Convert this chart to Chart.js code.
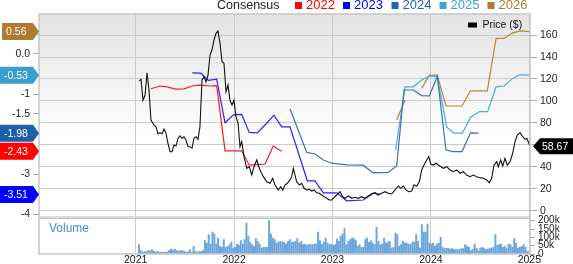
<!DOCTYPE html>
<html><head><meta charset="utf-8">
<script src="https://cdn.jsdelivr.net/npm/chart.js@4.4.1/dist/chart.umd.min.js"></script>
<style>html,body{margin:0;padding:0;background:#fff;overflow:hidden}canvas{display:block}</style>
</head><body>
<canvas id="c" width="573" height="264"></canvas>
<script>
// ---------- data ----------
const years = [2021, 2022, 2023, 2024, 2025];
const yearLabels = ['2021', '2022', '2023', '2024', '2025'];
const priceTicks = [0, 20, 40, 60, 80, 100, 120, 140, 160];
const epsTickValues = [0.5, 0, -0.5, -1, -1.5, -2, -2.5, -3, -3.5, -4];
const epsTickLabels = ['0.5', '0.0', '-0.5', '-1', '-1.5', '-2', '-2.5', '-3', '-3.5', '-4'];
const volTickValues = [0, 50, 100, 150, 200];
const volTickLabels = ['0', '50k', '100k', '150k', '200k'];

const priceDates = [2021.035,2021.054,2021.074,2021.095,2021.115,2021.135,2021.155,2021.186,2021.206,2021.226,2021.247,2021.267,2021.288,2021.308,2021.328,2021.349,2021.369,2021.389,2021.410,2021.430,2021.450,2021.471,2021.491,2021.511,2021.532,2021.552,2021.572,2021.592,2021.613,2021.633,2021.653,2021.674,2021.694,2021.714,2021.735,2021.755,2021.775,2021.796,2021.816,2021.836,2021.857,2021.877,2021.897,2021.918,2021.938,2021.958,2021.979,2021.999,2022.019,2022.040,2022.060,2022.077,2022.101,2022.128,2022.154,2022.179,2022.202,2022.230,2022.246,2022.263,2022.297,2022.331,2022.365,2022.392,2022.416,2022.449,2022.474,2022.494,2022.517,2022.541,2022.568,2022.585,2022.602,2022.619,2022.636,2022.663,2022.687,2022.710,2022.738,2022.764,2022.789,2022.812,2022.839,2022.866,2022.890,2022.914,2022.941,2022.967,2022.992,2023.008,2023.043,2023.076,2023.104,2023.127,2023.161,2023.195,2023.229,2023.262,2023.297,2023.330,2023.364,2023.398,2023.432,2023.465,2023.500,2023.534,2023.567,2023.602,2023.635,2023.669,2023.693,2023.720,2023.747,2023.774,2023.805,2023.828,2023.856,2023.882,2023.907,2023.930,2023.957,2023.978,2023.998,2024.024,2024.052,2024.075,2024.126,2024.161,2024.194,2024.228,2024.262,2024.296,2024.329,2024.363,2024.397,2024.431,2024.465,2024.499,2024.533,2024.567,2024.593,2024.618,2024.641,2024.669,2024.685,2024.709,2024.730,2024.753,2024.776,2024.804,2024.831,2024.855,2024.878,2024.906,2024.933,2024.956,2024.974,2024.990,2025.005];
const priceValues = [118.2,119.7,100.6,105.1,125.7,109.9,82.6,78.0,76.5,69.9,71.1,69.9,74.4,70.5,61.4,53.7,53.7,59.9,58.9,66.0,68.1,66.0,67.4,64.4,58.3,58.3,56.8,66.0,67.4,65.0,76.5,119.1,122.1,117.5,123.6,141.8,146.4,155.5,161.6,163.7,152.5,135.7,134.3,108.4,114.5,100.6,96.3,100.6,85.6,79.6,58.3,62.9,49.2,38.6,40.1,32.5,40.1,46.2,41.6,37.1,31.0,26.4,25.0,29.5,23.4,18.9,21.9,18.9,23.4,25.0,28.0,31.0,38.6,32.5,26.4,23.4,25.0,20.4,18.9,19.5,17.9,18.9,16.4,15.9,14.3,12.8,11.3,9.7,9.7,11.3,14.3,17.3,12.8,11.3,13.4,11.3,12.2,11.3,12.8,11.3,13.4,15.2,16.4,14.3,15.9,17.3,15.9,15.2,18.9,22.5,20.4,22.5,18.9,17.3,17.9,23.4,22.5,26.4,37.1,41.6,46.2,49.2,42.5,41.6,43.2,41.6,38.6,40.1,37.1,35.5,37.1,34.1,35.5,32.5,31.0,32.5,31.0,30.1,29.5,28.0,25.5,29.5,41.6,44.6,40.1,46.2,40.7,47.7,41.6,44.6,52.3,62.9,69.0,71.1,67.4,65.0,66.0,62.9,58.67];

const eps2022Dates = [2021.155,2021.247,2021.320,2021.405,2021.490,2021.575,2021.653,2021.755,2021.823,2021.908,2022.077,2022.154,2022.314,2022.398,2022.484];
const eps2022 = [-0.87,-0.80,-0.82,-0.88,-0.87,-0.80,-0.78,-0.80,-0.79,-2.42,-2.42,-2.78,-2.75,-2.30,-2.43];
const eps2023Dates = [2021.575,2021.661,2021.738,2021.823,2021.908,2021.992,2022.077,2022.154,2022.236,2022.324,2022.405,2022.484,2022.568,2022.744,2022.822,2022.907,2023.043,2023.144,2023.313,2023.415,2023.483];
const eps2023 = [-0.47,-0.48,-0.66,-0.63,-1.72,-1.52,-1.51,-1.96,-1.97,-1.75,-1.53,-1.82,-1.82,-3.17,-3.17,-3.47,-3.47,-3.67,-3.65,-3.48,-3.51];
const eps2024Dates = [2022.568,2022.738,2022.822,2022.907,2022.992,2023.144,2023.313,2023.409,2023.567,2023.652,2023.727,2023.821,2023.907,2023.984,2024.065,2024.153,2024.228,2024.316,2024.402,2024.482];
const eps2024 = [-1.37,-2.46,-2.50,-2.65,-2.73,-2.77,-2.78,-2.97,-2.96,-2.80,-0.90,-0.90,-1.04,-1.05,-0.56,-2.40,-2.44,-2.44,-1.97,-1.98];
const eps2025Dates = [2023.642,2023.737,2023.821,2023.907,2023.984,2024.065,2024.161,2024.235,2024.319,2024.404,2024.492,2024.577,2024.662,2024.743,2024.831,2024.906,2025.005];
const eps2025 = [-2.40,-0.82,-0.82,-0.65,-0.55,-0.57,-1.83,-1.98,-1.98,-1.58,-1.44,-1.44,-0.82,-0.80,-0.61,-0.52,-0.53];
const eps2026Dates = [2023.652,2023.737,2023.800,2023.907,2023.984,2024.065,2024.153,2024.316,2024.402,2024.573,2024.662,2024.743,2024.831,2024.911,2025.005];
const eps2026 = [-1.65,-1.15,null,-0.86,-0.53,-0.53,-1.30,-1.30,-0.92,-0.92,0.39,0.39,0.53,0.58,0.56];

// weekly volume (thousands of shares), first week and cadence
const volumeStart = 2021.033;
const volumeStepYears = 7 / 365.25;
const volume = [56,20,12,14,16,20,20,26,16,12,14,10,12,10,12,12,20,30,24,28,20,16,20,20,16,12,12,26,12,46,16,12,14,16,20,80,66,116,60,132,120,60,96,46,40,86,40,46,56,72,36,40,60,52,80,60,86,186,106,72,56,46,92,76,60,36,40,40,40,200,120,96,86,66,72,76,72,72,60,76,86,72,72,76,92,66,76,56,60,52,56,56,56,60,60,132,80,56,72,96,66,56,
60,52,56,90,76,106,120,152,56,76,86,96,92,80,46,56,40,40,86,96,70,80,66,56,160,76,56,60,96,66,72,76,36,40,126,116,46,56,76,66,66,60,56,72,72,116,76,36,176,132,132,180,66,60,66,46,60,66,100,40,32,36,34,30,32,26,26,26,26,32,32,56,46,40,20,26,60,36,20,36,40,36,26,30,36,36,40,116,52,56,60,40,46,32,60,56,40,92,66,36,40,46,56,40,16,16];

// ---------- styling ----------
const FONT = '"Liberation Sans", Arial, Helvetica, sans-serif';
const series = [
  {label: '2022', dates: eps2022Dates, values: eps2022, line: '#ff1a1a', flag: '#ff0000', legend: '#ff0000'},
  {label: '2023', dates: eps2023Dates, values: eps2023, line: '#2424ff', flag: '#0000ff', legend: '#0000ff'},
  {label: '2024', dates: eps2024Dates, values: eps2024, line: '#3673b8', flag: '#1f5fa7', legend: '#2265b0'},
  {label: '2025', dates: eps2025Dates, values: eps2025, line: '#4aa9dd', flag: '#3a9ed0', legend: '#3ca1d5'},
  {label: '2026', dates: eps2026Dates, values: eps2026, line: '#b8843c', flag: '#b07a30', legend: '#b07b34'}
];
const toPts = (d, v) => d.map((x, i) => ({x: x, y: v[i]}));

function lastVal(arr) { for (let i = arr.length - 1; i >= 0; i--) if (arr[i] !== null) return arr[i]; return null; }

const deco = {
  id: 'deco',
  beforeDraw(chart) {
    const {ctx, chartArea: a} = chart;
    const mainBottom = chart.scales.yPrice.bottom;
    ctx.save();
    ctx.fillStyle = '#ffffff';
    ctx.fillRect(0, 0, chart.width, chart.height);
    const g = ctx.createLinearGradient(0, a.top, 0, 140);
    g.addColorStop(0, '#e3e3e3');
    g.addColorStop(1, '#ffffff');
    ctx.fillStyle = g;
    ctx.fillRect(a.left, a.top, a.width, mainBottom - a.top);
    ctx.restore();
  },
  afterDraw(chart) {
    const {ctx, chartArea: a} = chart;
    const mainBottom = chart.scales.yPrice.bottom;
    ctx.save();
    // panel separator
    ctx.fillStyle = '#e6e6e6';
    ctx.fillRect(a.left, mainBottom, a.width, 2);
    ctx.strokeStyle = '#c8c8c8';
    ctx.lineWidth = 1;
    ctx.beginPath();
    ctx.moveTo(a.left, mainBottom + 0.5); ctx.lineTo(a.right, mainBottom + 0.5);
    ctx.moveTo(a.left, mainBottom + 2); ctx.lineTo(a.right, mainBottom + 2);
    ctx.stroke();
    // plot border
    ctx.strokeStyle = '#c6c6c6';
    ctx.lineWidth = 1.5;
    ctx.strokeRect(a.left, a.top, a.width, a.height);

    // legend
    ctx.textBaseline = 'middle';
    ctx.font = '12.5px ' + FONT;
    ctx.fillStyle = '#222';
    ctx.textAlign = 'left';
    ctx.fillText('Consensus', 217, 5.5);
    const lx = [295, 343, 391.5, 439.5, 487.5];
    ctx.font = '13px ' + FONT;
    series.forEach((s, i) => {
      ctx.fillStyle = s.legend;
      ctx.fillRect(lx[i], 2, 7, 7);
      ctx.fillText(s.label, lx[i] + 11, 5.5);
    });
    // price legend
    ctx.fillStyle = '#000';
    ctx.fillRect(468, 22.5, 9, 5);
    ctx.font = '10.5px ' + FONT;
    ctx.fillStyle = '#111';
    ctx.fillText('Price ($)', 482.5, 25.5);
    // volume caption
    ctx.fillStyle = '#3d8fcf';
    ctx.font = '12px ' + FONT;
    ctx.fillText('Volume', 49, 229);

    // left EPS flags
    const yE = chart.scales.yEps;
    ctx.font = '10.5px ' + FONT;
    series.forEach(s => {
      const v = lastVal(s.values);
      const y = yE.getPixelForValue(v);
      const txt = v.toFixed(2);
      const w = ctx.measureText(txt).width;
      const left = Math.max(0, 33 - w - 10.5);
      ctx.fillStyle = s.flag;
      ctx.beginPath();
      ctx.moveTo(left, y - 8.5);
      ctx.lineTo(33, y - 8.5);
      ctx.lineTo(39, y);
      ctx.lineTo(33, y + 8.5);
      ctx.lineTo(left, y + 8.5);
      ctx.closePath();
      ctx.fill();
      ctx.fillStyle = '#fff';
      ctx.fillText(txt, left + 4, y + 0.5);
    });
    // right price flag
    const yP = chart.scales.yPrice;
    const pv = priceValues[priceValues.length - 1];
    const py = yP.getPixelForValue(pv);
    ctx.fillStyle = '#000';
    ctx.beginPath();
    ctx.moveTo(533, py);
    ctx.lineTo(540, py - 8);
    ctx.lineTo(573, py - 8);
    ctx.lineTo(573, py + 8);
    ctx.lineTo(540, py + 8);
    ctx.closePath();
    ctx.fill();
    ctx.fillStyle = '#fff';
    ctx.font = '10.5px ' + FONT;
    ctx.fillText(pv.toFixed(2), 542, py + 0.5);
    ctx.restore();
  }
};

const datasets = [
  {type: 'line', label: 'Price ($)', data: toPts(priceDates, priceValues), yAxisID: 'yPrice', xAxisID: 'x',
   borderColor: '#111111', borderWidth: 1.1, pointRadius: 0, tension: 0, order: 0}
].concat(series.map((s, i) => ({
  type: 'line', label: s.label, data: toPts(s.dates, s.values), yAxisID: 'yEps', xAxisID: 'x',
  borderColor: s.line, borderWidth: 1.2, pointRadius: 0, tension: 0, spanGaps: false, order: 1 + i
}))).concat([
  {type: 'bar', label: 'Volume', data: volume.map((v, i) => ({x: volumeStart + i * volumeStepYears, y: v})),
   yAxisID: 'yVol', xAxisID: 'x', backgroundColor: '#6aa5db', barThickness: 1.3, grouped: false, order: 10}
]);

Chart.defaults.font.family = FONT;
new Chart(document.getElementById('c'), {
  type: 'line',
  data: {datasets},
  plugins: [deco],
  options: {
    responsive: false,
    animation: false,
    devicePixelRatio: 1,
    layout: {padding: {top: 14, left: 0, right: 0, bottom: 0}},
    plugins: {legend: {display: false}, tooltip: {enabled: false}},
    scales: {
      x: {
        type: 'linear', position: 'bottom', min: 2020.0173, max: 2025.007, offset: false,
        afterBuildTicks: s => { s.ticks = years.map(v => ({value: v})); },
        afterFit: s => { s.height = 10; },
        ticks: {callback: v => yearLabels[years.indexOf(v)], font: {size: 10.5}, color: '#222', padding: 0, maxRotation: 0, autoSkip: false},
        grid: {color: '#cbcbcb', lineWidth: 1, drawTicks: false, offset: false},
        border: {display: false}
      },
      yEps: {
        type: 'linear', position: 'left', min: -5.0, max: 1.0,
        afterBuildTicks: s => { s.ticks = epsTickValues.map(v => ({value: v})); },
        afterFit: s => { s.width = 39; },
        ticks: {callback: v => epsTickLabels[epsTickValues.indexOf(v)], font: {size: 10.5}, color: '#222', padding: 3, autoSkip: false},
        grid: {drawOnChartArea: false, tickLength: 6, color: '#aaaaaa'},
        border: {display: false}
      },
      yPrice: {
        type: 'linear', position: 'right', stack: 'right', stackWeight: 202.5, min: -5.29, max: 179.19,
        afterBuildTicks: s => { s.ticks = priceTicks.map(v => ({value: v})); },
        afterFit: s => { s.width = 43; },
        ticks: {callback: v => String(v), font: {size: 10.5}, color: '#222', padding: 3, autoSkip: false},
        grid: {color: '#cbcbcb', lineWidth: 1, tickLength: 7, tickColor: '#aaaaaa'},
        border: {display: false}
      },
      yVol: {
        type: 'linear', position: 'right', stack: 'right', stackWeight: 37.5, min: 0, max: 225.2,
        afterBuildTicks: s => { s.ticks = volTickValues.map(v => ({value: v})); },
        afterFit: s => { s.width = 43; },
        ticks: {callback: v => volTickLabels[volTickValues.indexOf(v)], font: {size: 10}, color: '#222', padding: 3, autoSkip: false},
        grid: {drawOnChartArea: false, tickLength: 5, color: '#aaaaaa'},
        border: {display: false}
      }
    }
  }
});
</script>
</body></html>
